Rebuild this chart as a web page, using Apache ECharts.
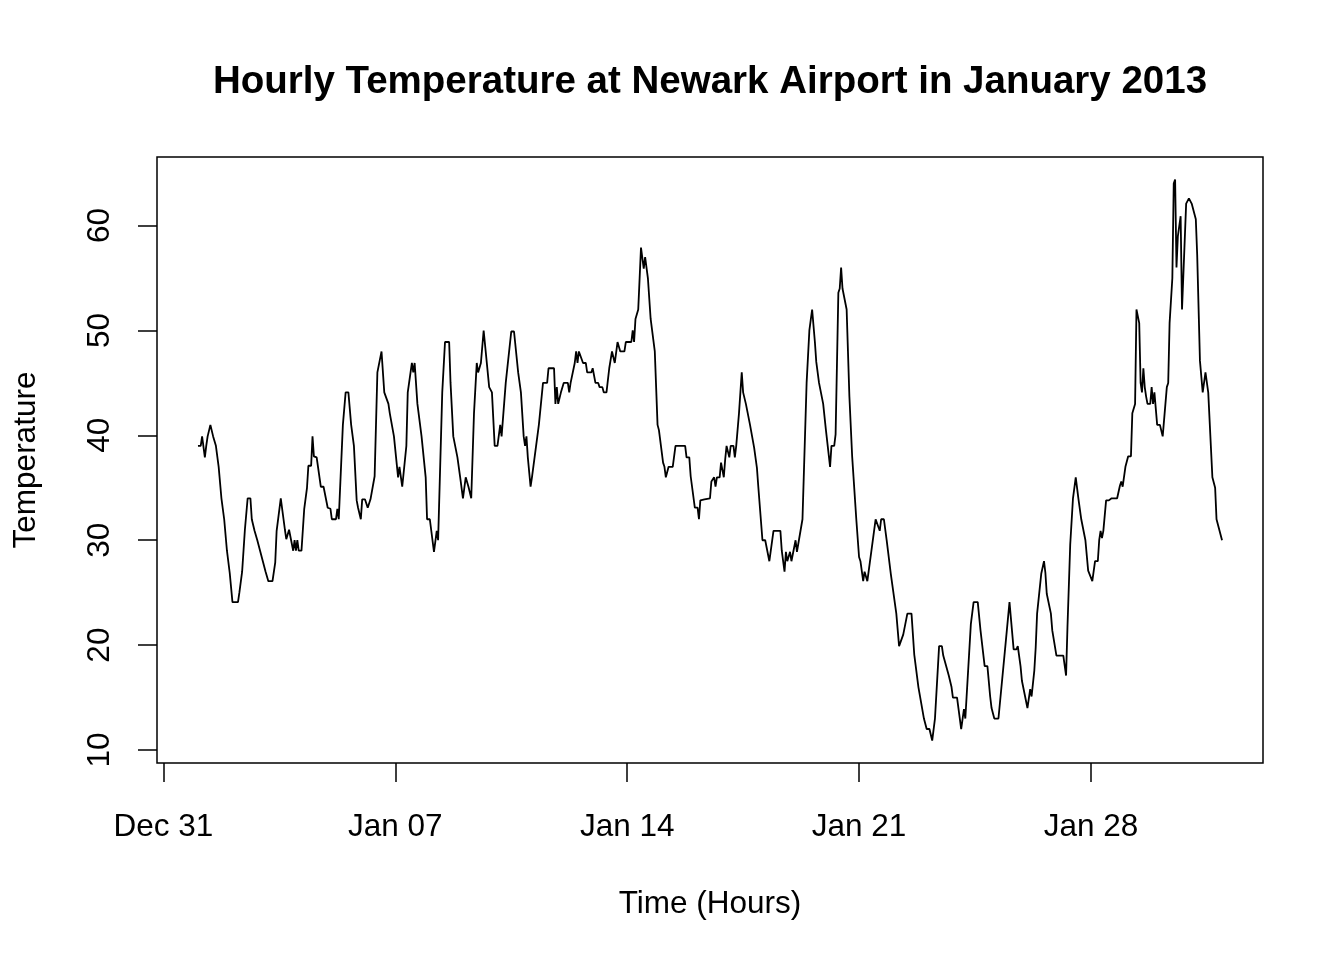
<!DOCTYPE html>
<html>
<head>
<meta charset="utf-8">
<title>Hourly Temperature at Newark Airport in January 2013</title>
<script src="https://cdn.jsdelivr.net/npm/echarts@6/dist/echarts.min.js"></script>
<style>
  html, body { margin: 0; padding: 0; background: #fff; }
  #chart { width: 1344px; height: 960px; }
</style>
</head>
<body>
<div id="chart"></div>
<script>
// hours since 2013-01-01 00:00 and temperature in F
var hourOffset = [
    1, 3, 4, 6, 7, 8, 10, 11, 12, 14,
    16, 18, 20, 22, 24, 26, 30, 31, 33, 35,
    37, 39, 40, 42, 44, 46, 48, 50, 52, 55,
    57, 58, 61, 62, 64, 65, 67, 68, 70, 71,
    72, 73, 74, 76, 78, 80, 81, 83, 84, 85,
    87, 90, 92, 95, 97, 98, 101, 102, 103, 106,
    108, 110, 112, 114, 116, 117, 119, 120, 122, 124,
    126, 129, 131, 134, 136, 139, 140, 143, 144, 146,
    147, 149, 152, 153, 156, 157, 158, 160, 163, 166,
    167, 169, 172, 174, 175, 178, 180, 183, 184, 186,
    187, 189, 190, 191, 193, 195, 197, 199, 201, 203,
    204, 206, 208, 212, 214, 216, 218, 220, 221, 224,
    228, 230, 233, 235, 237, 238, 239, 240, 242, 243,
    248, 251, 254, 255, 259, 260, 261, 262, 264, 266,
    269, 270, 271, 274, 275, 276, 277, 278, 280, 282,
    283, 286, 287, 289, 291, 292, 294, 295, 297, 299,
    301, 303, 305, 307, 310, 311, 315, 316, 317, 318,
    320, 322, 324, 325, 327, 329, 330, 332, 334, 335,
    338, 339, 340, 342, 345, 347, 354, 355, 357, 358,
    361, 363, 364, 365, 368, 372, 373, 375, 376, 377,
    379, 380, 382, 383, 384, 386, 387, 389, 390, 391,
    393, 394, 395, 396, 398, 399, 401, 402, 404, 406,
    407, 410, 412, 415, 418, 423, 424, 426, 427, 428,
    430, 431, 434, 435, 439, 442, 444, 445, 446, 448,
    449, 450, 451, 452, 454, 456, 459, 460, 462, 463,
    465, 466, 467, 468, 471, 473, 475, 478, 480, 481,
    483, 484, 486, 492, 495, 496, 498, 500, 501, 503,
    507, 509, 510, 512, 515, 518, 520, 523, 524, 527,
    528, 529, 531, 533, 535, 538, 540, 541, 542, 545,
    547, 548, 551, 552, 554, 556, 557, 561, 563, 566,
    568, 571, 573, 575, 576, 578, 581, 586, 589, 592,
    594, 595, 597, 598, 602, 604, 605, 607, 608, 609,
    610, 612, 614, 615, 616, 619, 620, 623, 628, 630,
    631, 633, 635, 637, 639, 641, 642, 644, 646, 649,
    651, 653, 654, 655, 656, 657, 659, 661, 663, 667,
    669, 670, 671, 673, 675, 677, 678, 680, 681, 682,
    683, 684, 685, 686, 687, 688, 689, 691, 692, 693,
    694, 696, 698, 700, 701, 703, 704, 705, 707, 708,
    709, 710, 711, 712, 713, 714, 715, 717, 718, 719,
    721, 722, 724, 725, 727, 729, 731, 733, 736, 738,
    739, 740, 743
];
var tempF = [
    39.0, 39.0, 39.9, 37.9, 39.0, 39.9, 41.0, 41.0, 39.9, 39.0,
    37.0, 34.0, 32.0, 29.0, 26.9, 24.1, 24.1, 25.0, 27.0, 31.0,
    34.0, 34.0, 32.0, 30.9, 30.0, 29.0, 28.0, 27.0, 26.1, 26.1,
    27.9, 30.9, 34.0, 34.0, 31.0, 30.1, 31.0, 31.0, 29.0, 30.0,
    29.0, 30.0, 29.0, 29.0, 33.0, 35.0, 37.1, 37.1, 39.9, 38.0,
    37.9, 35.1, 35.1, 33.1, 33.0, 32.0, 32.0, 33.0, 32.0, 41.0,
    44.1, 44.1, 41.0, 39.0, 33.8, 33.1, 32.0, 33.9, 33.9, 33.1,
    33.9, 36.1, 46.0, 48.0, 44.1, 43.0, 42.1, 39.9, 39.9, 36.0,
    37.0, 35.1, 39.0, 44.1, 46.9, 46.0, 46.9, 43.0, 39.9, 36.0,
    32.0, 32.0, 28.9, 30.9, 30.0, 44.1, 48.9, 48.9, 45.0, 39.9,
    39.9, 37.9, 37.9, 36.0, 34.0, 36.0, 35.1, 34.0, 42.1, 46.9,
    46.0, 46.9, 50.0, 44.6, 44.1, 39.0, 39.0, 41.0, 39.9, 45.0,
    49.9, 49.9, 46.0, 44.1, 39.9, 39.0, 39.9, 37.9, 35.1, 36.0,
    41.0, 45.0, 45.0, 46.4, 46.4, 43.0, 44.6, 43.0, 44.1, 45.0,
    45.0, 44.1, 45.0, 46.9, 48.0, 46.9, 48.0, 48.0, 46.9, 46.9,
    46.0, 46.0, 46.4, 45.0, 45.0, 44.6, 44.6, 44.1, 44.1, 46.4,
    48.0, 46.9, 48.9, 48.0, 48.0, 48.9, 48.9, 50.0, 48.9, 51.1,
    52.0, 57.9, 55.9, 57.0, 55.0, 51.1, 51.1, 48.0, 41.0, 40.5,
    37.4, 37.0, 36.0, 37.0, 37.0, 39.0, 39.0, 37.9, 37.9, 36.1,
    33.1, 33.1, 32.0, 33.8, 33.9, 34.0, 35.6, 36.0, 35.1, 36.0,
    36.0, 37.4, 36.0, 37.7, 39.0, 37.9, 39.0, 39.0, 37.9, 39.0,
    42.1, 42.1, 46.0, 44.1, 43.0, 43.0, 41.0, 41.0, 38.8, 36.9,
    35.1, 30.0, 30.0, 28.0, 30.9, 30.9, 29.0, 27.0, 28.9, 28.0,
    28.9, 28.0, 30.0, 28.9, 32.0, 45.0, 50.0, 51.0, 52.0, 48.9,
    47.0, 46.9, 45.0, 45.0, 43.0, 40.5, 37.0, 39.0, 39.0, 40.1,
    53.6, 54.0, 56.0, 54.0, 52.0, 43.7, 38.0, 32.0, 28.4, 28.0,
    26.1, 27.0, 26.1, 32.0, 30.9, 32.0, 32.0, 30.0, 30.0, 26.8,
    23.0, 19.9, 19.9, 21.0, 23.0, 23.0, 19.1, 16.0, 16.0, 13.0,
    13.0, 12.0, 12.0, 10.9, 13.0, 19.9, 19.9, 19.0, 19.0, 17.1,
    16.0, 15.0, 15.0, 14.0, 12.0, 13.9, 13.0, 22.0, 24.1, 24.1,
    21.4, 18.0, 18.0, 15.1, 14.0, 13.0, 13.0, 19.9, 24.1, 19.6,
    19.6, 19.9, 18.0, 16.6, 14.0, 15.8, 15.1, 17.6, 19.8, 23.0,
    23.0, 26.8, 28.0, 26.9, 24.9, 23.0, 21.4, 19.0, 19.0, 17.1,
    21.7, 29.6, 34.0, 36.0, 33.9, 32.0, 32.0, 30.0, 27.1, 26.1,
    28.0, 28.0, 30.0, 30.9, 30.2, 30.9, 33.8, 33.8, 34.0, 34.0,
    35.2, 35.6, 35.1, 37.0, 38.0, 38.0, 42.1, 43.0, 52.0, 52.0,
    50.7, 45.0, 44.1, 46.4, 44.6, 43.7, 43.0, 43.0, 44.6, 43.0,
    44.1, 41.0, 41.0, 39.9, 39.9, 44.6, 45.0, 50.7, 55.0, 64.0,
    64.4, 56.0, 59.0, 59.0, 60.9, 52.0, 52.0, 62.1, 62.1, 62.6,
    62.1, 62.1, 60.6, 57.2, 47.1, 44.1, 46.0, 44.1, 36.0, 35.0,
    32.0, 32.0, 30.0
];

// axis ticks
var xTickHours = [-24, 144, 312, 480, 648];
var xTickLabels = ['Dec 31', 'Jan 07', 'Jan 14', 'Jan 21', 'Jan 28'];
var yTicks = [10, 20, 30, 40, 50, 60];

var FONT = 'Liberation Sans, Arial, Helvetica, sans-serif';
var T0 = Date.UTC(2013, 0, 1);
var HOUR = 3600 * 1000;

function toTime(h) { return T0 + h * HOUR; }

var seriesData = hourOffset.map(function (h, i) {
    return [toTime(h), tempF[i]];
});
var xTickTimes = xTickHours.map(toTime);

// R style axis range: data range padded by 4% on each side
var hMin = Math.min.apply(null, hourOffset), hMax = Math.max.apply(null, hourOffset);
var tMin = Math.min.apply(null, tempF), tMax = Math.max.apply(null, tempF);
var hPad = (hMax - hMin) * 0.04, tPad = (tMax - tMin) * 0.04;

var chart = echarts.init(document.getElementById('chart'));

var option = {
    backgroundColor: '#fff',
    animation: false,
    textStyle: { fontFamily: FONT, color: '#000' },
    title: {
        text: 'Hourly Temperature at Newark Airport in January 2013',
        left: 705,
        top: 58,
        textAlign: 'center',
        textStyle: { fontFamily: FONT, fontSize: 38.5, fontWeight: 'bold', color: '#000' }
    },
    grid: {
        left: 157, right: 81, top: 157, bottom: 197,
        show: true,
        borderColor: '#000',
        borderWidth: 1.5,
        backgroundColor: 'transparent'
    },
    // timestamps on a linear value axis, so the date ticks can be placed exactly
    xAxis: {
        type: 'value',
        scale: true,
        min: toTime(hMin - hPad),
        max: toTime(hMax + hPad),
        name: 'Time (Hours)',
        nameLocation: 'middle',
        nameGap: 125,
        nameTextStyle: { fontFamily: FONT, fontSize: 31.5, color: '#000' },
        axisLine: { show: false },
        splitLine: { show: false },
        axisTick: {
            show: true,
            length: 19,
            customValues: xTickTimes,
            lineStyle: { color: '#000', width: 1.5 }
        },
        axisLabel: {
            customValues: xTickTimes,
            margin: 48,
            fontFamily: FONT,
            fontSize: 31.5,
            color: '#000',
            formatter: function (value) {
                for (var i = 0; i < xTickTimes.length; i++) {
                    if (Math.abs(xTickTimes[i] - value) < HOUR) return xTickLabels[i];
                }
                return '';
            }
        }
    },
    yAxis: {
        type: 'value',
        min: tMin - tPad,
        max: tMax + tPad,
        name: 'Temperature',
        nameLocation: 'middle',
        nameGap: 115,
        nameRotate: 90,
        nameTextStyle: { fontFamily: FONT, fontSize: 31.5, color: '#000' },
        axisLine: { show: false },
        splitLine: { show: false },
        axisTick: {
            show: true,
            length: 19,
            customValues: yTicks,
            lineStyle: { color: '#000', width: 1.5 }
        },
        axisLabel: {
            customValues: yTicks,
            rotate: 90,
            margin: 41,
            fontFamily: FONT,
            fontSize: 31.5,
            color: '#000'
        }
    },
    series: [
        {
            name: 'Temperature',
            type: 'line',
            data: seriesData,
            showSymbol: false,
            symbol: 'none',
            lineStyle: { color: '#000', width: 1.8 },
            clip: true
        }
    ]
};

chart.setOption(option);
</script>
</body>
</html>
